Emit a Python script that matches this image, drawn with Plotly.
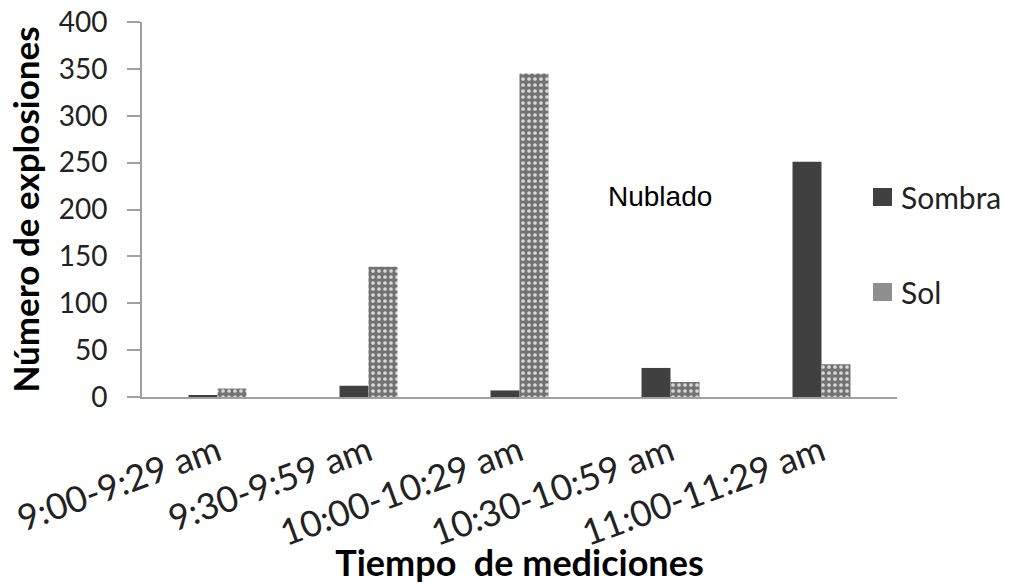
import plotly.graph_objects as go

categories = ["9:00-9:29 am", "9:30-9:59 am", "10:00-10:29 am", "10:30-10:59 am", "11:00-11:29 am"]
sombra = [2, 12, 7, 31, 251]
sol = [9, 139, 345, 16, 35]
y_ticks = [0, 50, 100, 150, 200, 250, 300, 350, 400]
series_names = ["Sombra", "Sol"]

FONT = "Lato"
W, H = 1010, 584
ML, MR, MT, MB = 142, 113, 22, 187
PW, PH = W - ML - MR, H - MT - MB

def fx(px):
    return (px - ML) / PW

def fy(py):
    return (H - MB - py) / PH

SOMBRA_COLOR = "#404040"
SOL_SWATCH = "#8e8e8e"

fig = go.Figure()
fig.add_trace(go.Bar(
    x=categories, y=sombra, name=series_names[0],
    marker=dict(color=SOMBRA_COLOR, line=dict(width=0)),
))
fig.add_trace(go.Bar(
    x=categories, y=sol, name=series_names[1],
    marker=dict(color="#7a7a7a", line=dict(width=0),
                pattern=dict(shape=".", fgcolor="#d9d9d9", bgcolor="#727272",
                             size=6, solidity=0.3, fillmode="replace")),
))

fig.add_annotation(text="Nublado", x=0.686, y=214, xref="paper", yref="y",
                   xanchor="center", yanchor="middle", showarrow=False,
                   font=dict(family="Liberation Sans, Arial", size=28, color="black"))

# legend drawn manually (keeps the plot area fixed)
legend_rows = [(series_names[0], SOMBRA_COLOR, 197), (series_names[1], SOL_SWATCH, 292)]
for name, col, cy in legend_rows:
    fig.add_shape(type="rect", xref="paper", yref="paper",
                  x0=fx(873), x1=fx(892), y0=fy(cy + 9), y1=fy(cy - 9),
                  fillcolor=col, line=dict(width=0))
    fig.add_annotation(text=name, xref="paper", yref="paper",
                       x=fx(899), y=fy(cy), xanchor="left", yanchor="middle",
                       showarrow=False,
                       font=dict(family=FONT, size=30, color="#222"))

fig.update_layout(
    width=W, height=H,
    margin=dict(l=ML, r=MR, t=MT, b=MB),
    paper_bgcolor="white", plot_bgcolor="white",
    barmode="group", bargap=0.616, bargroupgap=0,
    font=dict(family=FONT, color="#222"),
    showlegend=False,
    xaxis=dict(
        showline=True, linecolor="#a0a0a0", linewidth=2,
        ticks="", tickangle=-20, ticklabelstandoff=18,
        tickfont=dict(family=FONT, size=36, color="#222"),
        automargin=False,
        title=dict(text="<b>Tiempo  de mediciones</b>",
                   font=dict(family=FONT, size=36, color="black"), standoff=4),
    ),
    yaxis=dict(
        range=[0, 400], tickvals=y_ticks,
        showline=True, linecolor="#a0a0a0", linewidth=2,
        ticks="outside", ticklen=13, tickcolor="#a0a0a0", tickwidth=2,
        ticklabelstandoff=14,
        showgrid=False, zeroline=False, automargin=False,
        tickfont=dict(family=FONT, size=28, color="#222"),
        title=dict(text="<b>Número de explosiones</b>",
                   font=dict(family=FONT, size=35, color="black"), standoff=8),
    ),
)

fig.write_html("out.html")
